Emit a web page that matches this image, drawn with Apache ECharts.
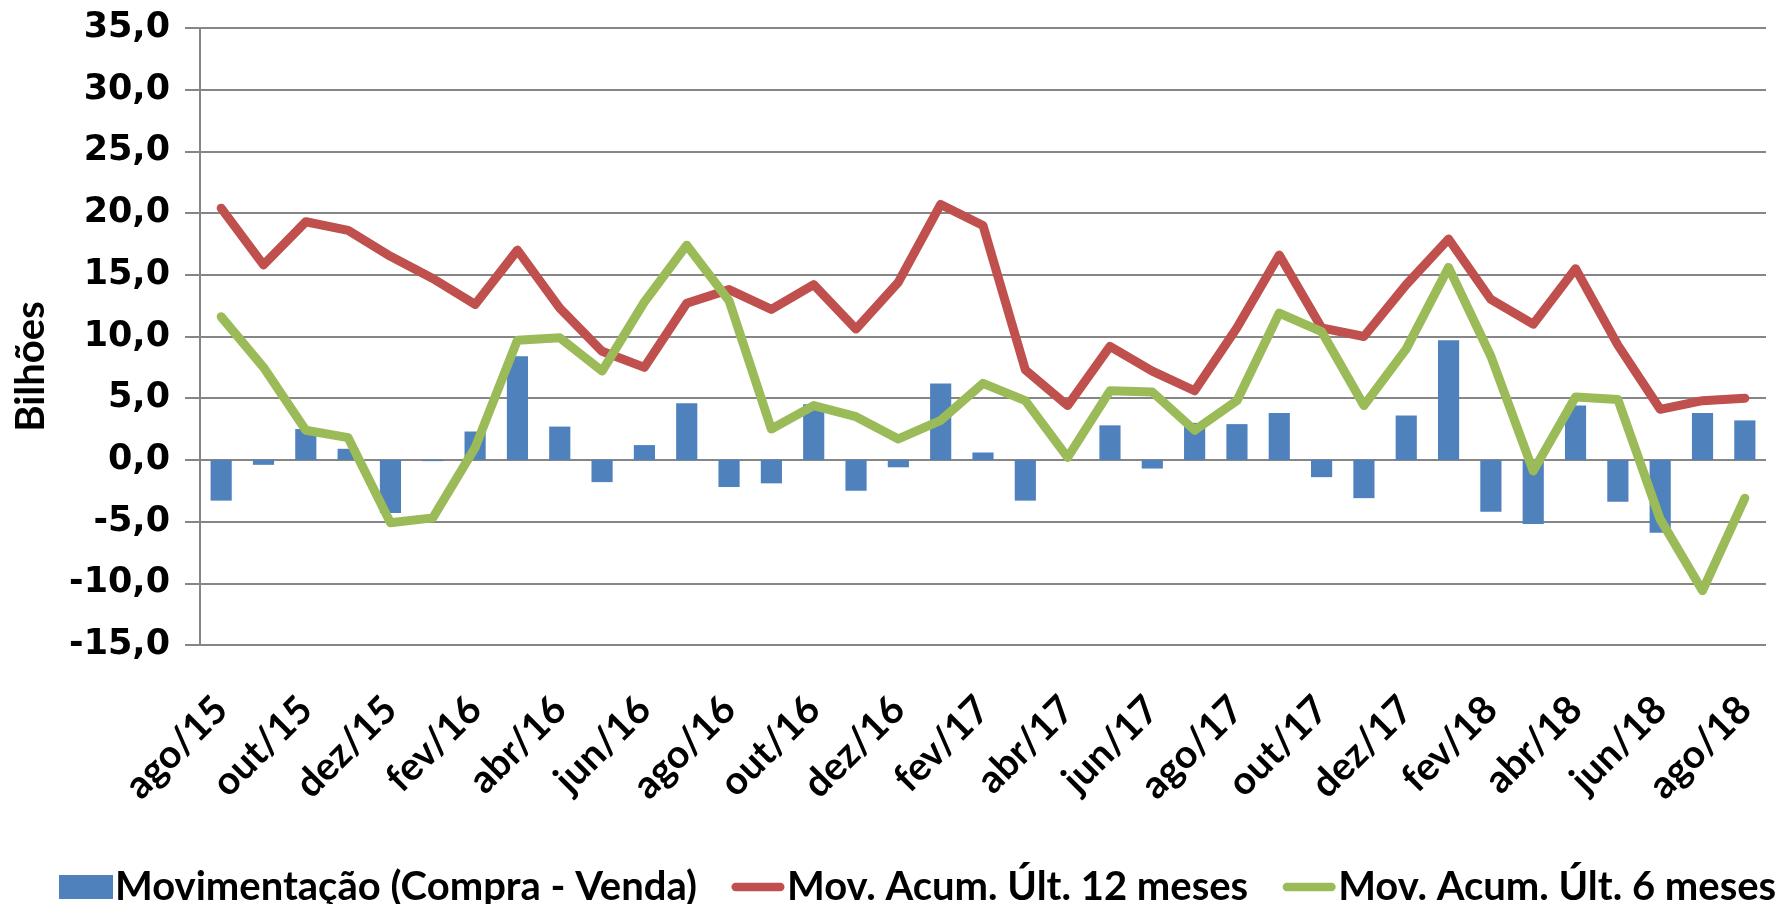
<!DOCTYPE html>
<html>
<head>
<meta charset="utf-8">
<script src="https://cdn.jsdelivr.net/npm/echarts@6/dist/echarts.min.js"></script>
<style>
  html, body { margin: 0; padding: 0; background: #fff; }
  #chart { width: 1789px; height: 904px; }
</style>
</head>
<body>
<div id="chart"></div>
<script>
// meses de ago/15 a ago/18
var meses = ['ago/15','set/15','out/15','nov/15','dez/15','jan/16','fev/16','mar/16','abr/16','mai/16',
  'jun/16','jul/16','ago/16','set/16','out/16','nov/16','dez/16','jan/17','fev/17','mar/17',
  'abr/17','mai/17','jun/17','jul/17','ago/17','set/17','out/17','nov/17','dez/17','jan/18',
  'fev/18','mar/18','abr/18','mai/18','jun/18','jul/18','ago/18'];

// Movimentação (Compra - Venda)
var movimentacao = [-3.3,-0.4,2.5,0.9,-4.3,-0.1,2.3,8.4,2.7,-1.8,
  1.2,4.6,-2.2,-1.9,4.5,-2.5,-0.6,6.2,0.6,-3.3,
  0,2.8,-0.7,3.0,2.9,3.8,-1.4,-3.1,3.6,9.7,
  -4.2,-5.2,4.4,-3.4,-5.9,3.8,3.2];

// Mov. Acum. Últ. 12 meses
var acum12 = [20.4,15.8,19.3,18.6,16.5,14.7,12.6,17.0,12.3,8.8,
  7.5,12.7,13.8,12.2,14.2,10.6,14.4,20.7,19.0,7.3,
  4.4,9.2,7.2,5.6,10.7,16.6,10.7,10.0,14.2,17.9,
  13.0,11.0,15.5,9.3,4.1,4.8,5.0];

// Mov. Acum. Últ. 6 meses
var acum6 = [11.6,7.5,2.4,1.8,-5.1,-4.7,1.0,9.7,9.9,7.2,
  12.8,17.4,12.9,2.5,4.4,3.5,1.7,3.2,6.2,4.8,
  0.2,5.6,5.5,2.4,4.8,11.9,10.4,4.4,9.0,15.6,
  8.4,-0.9,5.1,4.9,-4.8,-10.6,-3.1];

var yMin = -15, yMax = 35, yStep = 5;

// icone de linha (traço grosso com pontas arredondadas) para a legenda
var iconeLinha = 'path://M0,0M58,24M5,7.5h48a4.5,4.5 0 0 1 0,9h-48a4.5,4.5 0 0 1 0,-9z';

var chart = echarts.init(document.getElementById('chart'));
var option = {
  animation: false,
  grid: { left: 200, right: 23, top: 28, bottom: 259 },
  legend: {
    left: 54,
    top: 862,
    itemWidth: 54,
    itemHeight: 24,
    itemGap: 34,
    textStyle: { fontFamily: 'Lato', fontWeight: 'bold', fontSize: 40, color: '#000', padding: [0, 0, 0, -3] },
    data: [
      { name: 'Movimentação (Compra - Venda)', icon: 'rect' },
      { name: 'Mov. Acum. Últ. 12 meses', icon: iconeLinha },
      { name: 'Mov. Acum. Últ. 6 meses', icon: iconeLinha }
    ]
  },
  xAxis: {
    type: 'category',
    data: meses,
    boundaryGap: true,
    axisLine: { show: false, onZero: false },
    axisTick: { show: false },
    axisLabel: {
      interval: 1,
      rotate: 45,
      margin: 58,
      fontFamily: 'Lato',
      fontWeight: 'bold',
      fontSize: 39,
      color: '#000'
    }
  },
  yAxis: {
    type: 'value',
    min: yMin,
    max: yMax,
    interval: yStep,
    name: 'Bilhões',
    nameLocation: 'middle',
    nameGap: 149,
    nameTextStyle: { fontFamily: 'Lato', fontWeight: 'bold', fontSize: 40, color: '#000', padding: [0, 60, 0, 0] },
    axisLine: { show: true, lineStyle: { color: '#868686', width: 2 } },
    axisTick: { show: true, length: 15, lineStyle: { color: '#868686', width: 2 } },
    splitLine: { show: true, lineStyle: { color: '#868686', width: 2 } },
    axisLabel: {
      margin: 30,
      fontFamily: 'DejaVu Sans',
      fontWeight: 'bold',
      fontSize: 35,
      color: '#000',
      formatter: function (v) { return v.toFixed(1).replace('.', ','); }
    }
  },
  series: [
    {
      name: 'Movimentação (Compra - Venda)',
      type: 'bar',
      barWidth: '50%',
      itemStyle: { color: '#4f81bd' },
      data: movimentacao
    },
    {
      name: 'Mov. Acum. Últ. 12 meses',
      type: 'line',
      symbol: 'none',
      lineStyle: { color: '#c0504d', width: 9, cap: 'round', join: 'round' },
      itemStyle: { color: '#c0504d' },
      data: acum12
    },
    {
      name: 'Mov. Acum. Últ. 6 meses',
      type: 'line',
      symbol: 'none',
      lineStyle: { color: '#9bbb59', width: 9, cap: 'round', join: 'round' },
      itemStyle: { color: '#9bbb59' },
      data: acum6
    }
  ]
};
chart.setOption(option);
</script>
</body>
</html>
